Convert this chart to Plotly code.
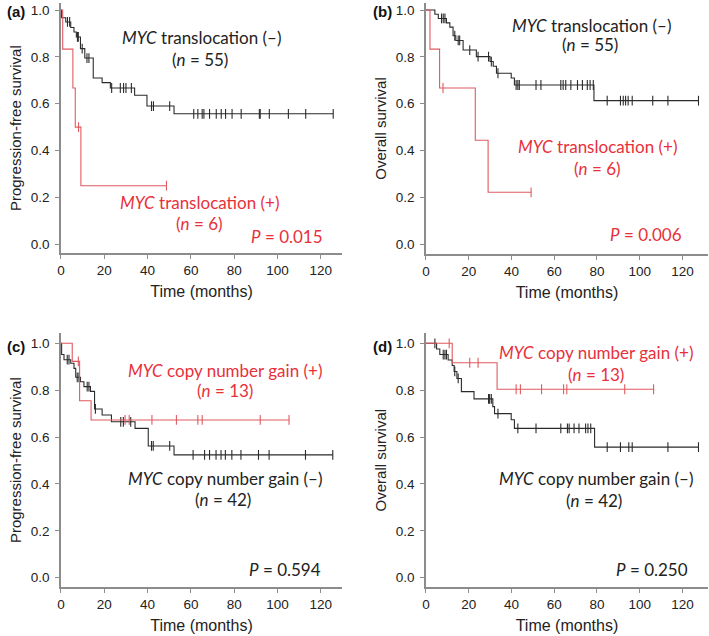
import plotly.graph_objects as go

# ---------------- data ----------------
# Panel (a): PFS by MYC translocation
a_neg_event_t = [0.3, 2.2, 4.5, 6.0, 7.1, 9.0, 11.0, 14.9, 19.0, 22.8, 34.0, 39.7, 52.2]
a_neg_surv = [0.967, 0.949, 0.925, 0.906, 0.885, 0.835, 0.795, 0.710, 0.690, 0.667, 0.636, 0.590, 0.557]
a_neg_censor = [3.0, 4.0, 7.6, 8.0, 9.8, 12.0, 12.9, 23.4, 27.4, 28.9, 30.0, 32.5, 41.8, 42.7, 50.2,
                61.3, 63.2, 65.2, 66.0, 68.6, 71.7, 74.0, 76.0, 79.0, 83.2, 91.6, 92.0, 96.2, 105.0, 113.0, 125.7]
a_pos_event_t = [0.8, 5.5, 6.6, 9.2]
a_pos_surv = [0.833, 0.667, 0.500, 0.250]
a_pos_censor = [8.1, 48.7]

# Panel (b): OS by MYC translocation
b_neg_event_t = [4.2, 5.8, 9.6, 11.2, 12.7, 14.0, 17.4, 23.6, 30.0, 31.5, 33.0, 39.9, 41.4, 78.6]
b_neg_surv = [0.982, 0.964, 0.945, 0.927, 0.890, 0.870, 0.829, 0.801, 0.780, 0.760, 0.730, 0.710, 0.680, 0.613]
b_neg_censor = [7.3, 8.1, 8.9, 13.5, 15.1, 15.8, 20.5, 24.4, 29.3, 30.6, 33.7, 42.2, 43.0, 43.7, 51.5, 53.8,
                63.1, 64.2, 65.4, 67.8, 70.9, 73.2, 75.5, 76.8, 78.3, 84.8, 91.0, 92.3, 93.4, 94.6, 96.5,
                106.1, 113.2, 127.5]
b_pos_event_t = [1.9, 6.4, 23.1, 29.1]
b_pos_surv = [0.833, 0.667, 0.444, 0.222]
b_pos_censor = [8.0, 49.2]

# Panel (c): PFS by MYC copy number gain
c_neg_event_t = [0.3, 1.4, 4.5, 6.0, 6.8, 9.0, 10.6, 13.6, 15.5, 19.0, 23.3, 34.2, 40.3, 52.2]
c_neg_surv = [0.952, 0.930, 0.915, 0.893, 0.855, 0.836, 0.815, 0.795, 0.720, 0.694, 0.665, 0.637, 0.562, 0.524]
c_neg_censor = [2.9, 3.7, 7.5, 8.3, 12.1, 12.9, 15.9, 27.6, 28.8, 32.2, 41.8, 42.6, 50.2, 61.0, 66.3, 68.6,
                71.6, 73.9, 75.9, 78.9, 83.1, 91.2, 96.1, 112.9, 125.5]
c_pos_event_t = [5.2, 8.6, 13.9]
c_pos_surv = [0.923, 0.755, 0.673]
c_pos_censor = [8.0, 29.6, 31.5, 42.0, 53.3, 63.2, 65.2, 92.0, 105.3]

# Panel (d): OS by MYC copy number gain
d_neg_event_t = [5.0, 6.5, 10.4, 12.3, 13.2, 14.5, 16.6, 22.5, 31.3, 32.1, 39.9, 41.4, 78.9]
d_neg_surv = [0.976, 0.952, 0.929, 0.905, 0.880, 0.850, 0.794, 0.763, 0.730, 0.700, 0.674, 0.637, 0.557]
d_neg_censor = [4.2, 8.1, 8.9, 9.6, 13.5, 15.1, 29.3, 29.8, 30.6, 33.7, 43.0, 51.5, 63.1, 66.2, 67.0, 69.3,
                71.6, 74.7, 75.8, 77.1, 84.8, 91.0, 94.9, 96.5, 113.2, 127.5]
d_pos_event_t = [12.3, 33.3]
d_pos_surv = [0.917, 0.804]
d_pos_censor = [10.9, 20.5, 24.4, 42.2, 44.2, 54.1, 64.4, 65.9, 93.0, 106.5]

x_ticks = [0, 20, 40, 60, 80, 100, 120]
y_ticks = [0.0, 0.2, 0.4, 0.6, 0.8, 1.0]
panel_labels = ["(a)", "(b)", "(c)", "(d)"]
y_titles = ["Progression-free survival", "Overall survival", "Progression-free survival", "Overall survival"]
x_title = "Time (months)"
p_values = ["0.015", "0.006", "0.594", "0.250"]

# ---------------- style ----------------
BLACK = "#2b2b2b"
RED_LINE = "#e05a60"
RED_TXT = "#e8303a"
AXIS_C = "#8c8c8c"
W, H = 709, 636
TICK_FONT = dict(family="Liberation Sans, Arial", size=13.5, color="#222")
ANN_FONT = "Lato, Carlito, Calibri, sans-serif"


def km_xy(event_t, surv, censor):
    last = max(event_t + censor)
    xs = [0] + list(event_t) + [last]
    ys = [1.0] + list(surv) + [surv[-1]]
    return xs, ys


def surv_at(t, event_t, surv):
    s = 1.0
    for et, sv in zip(event_t, surv):
        if et <= t:
            s = sv
    return s


fig = go.Figure()

# pixel geometry: (x px of t=0, px per month, right px, y px of 1.0, y px of 0.0, top px, bottom px)
geo = [
    (57.3, 2.178, 340.0, 10.0, 244.3, 3.0, 253.3),
    (424.3, 2.150, 708.0, 10.0, 244.3, 3.0, 254.0),
    (57.3, 2.178, 340.0, 343.3, 577.7, 333.0, 587.3),
    (424.3, 2.150, 708.0, 343.3, 577.7, 333.0, 587.3),
]

panels = [
    (a_neg_event_t, a_neg_surv, a_neg_censor, a_pos_event_t, a_pos_surv, a_pos_censor),
    (b_neg_event_t, b_neg_surv, b_neg_censor, b_pos_event_t, b_pos_surv, b_pos_censor),
    (c_neg_event_t, c_neg_surv, c_neg_censor, c_pos_event_t, c_pos_surv, c_pos_censor),
    (d_neg_event_t, d_neg_surv, d_neg_censor, d_pos_event_t, d_pos_surv, d_pos_censor),
]

for i, (g, p) in enumerate(zip(geo, panels)):
    k = "" if i == 0 else str(i + 1)
    xa, ya = "x" + k, "y" + k
    x0, ppm, xr, y1, y0, yt, yb = g
    ppu = y0 - y1
    xrange = [0, (xr - x0) / ppm]
    yrange = [-(yb - y0) / ppu, 1 + (y1 - yt) / ppu]
    for (et, sv, cen, lc) in [(p[0], p[1], p[2], BLACK), (p[3], p[4], p[5], RED_LINE)]:
        xs, ys = km_xy(et, sv, cen)
        fig.add_trace(go.Scatter(x=xs, y=ys, mode="lines", line=dict(color=lc, width=1.1, shape="hv"),
                                 xaxis=xa, yaxis=ya, showlegend=False, hoverinfo="skip"))
        fig.add_trace(go.Scatter(x=cen, y=[surv_at(t, et, sv) for t in cen], mode="markers",
                                 marker=dict(symbol="line-ns", size=7, line=dict(color=lc, width=1.1)),
                                 xaxis=xa, yaxis=ya, showlegend=False, hoverinfo="skip"))
    axis_common = dict(showline=True, linecolor=AXIS_C, linewidth=1.5, ticks="outside", ticklen=4,
                       tickcolor=AXIS_C, tickwidth=1.2, showgrid=False, zeroline=False, tickfont=TICK_FONT)
    fig.update_layout(**{
        ("xaxis" + k): dict(domain=[x0 / W, xr / W], range=xrange, tickvals=x_ticks, anchor=ya,
                            title=dict(text=x_title, font=dict(family="Liberation Sans, Arial", size=16, color="#222"),
                                       standoff=9),
                            **axis_common),
        ("yaxis" + k): dict(domain=[1 - yb / H, 1 - yt / H], range=yrange, tickvals=y_ticks, tickformat=".1f",
                            anchor=xa, ticklabelstandoff=3,
                            title=dict(text=y_titles[i], font=dict(family="Liberation Sans, Arial", size=15, color="#222"),
                                       standoff=5),
                            **axis_common),
    })

ann = []
def A(text, x, y, ref, color, xanchor="center"):
    ann.append(dict(text=text, x=x, y=y, xref="x" + ref, yref="y" + ref, showarrow=False,
                    font=dict(family=ANN_FONT, size=17, color=color), xanchor=xanchor, yanchor="middle"))

# (a)
A("<i>MYC</i> translocation (–)", 65, 0.882, "", "#222")
A("(<i>n</i> = 55)", 64, 0.787, "", "#222")
A("<i>MYC</i> translocation (+)", 64, 0.178, "", RED_TXT)
A("(<i>n</i> = 6)", 64, 0.09, "", RED_TXT)
A("<i>P</i> = " + p_values[0], 122, 0.035, "", RED_TXT, "right")
# (b)
A("<i>MYC</i> translocation (–)", 77.5, 0.933, "2", "#222")
A("(<i>n</i> = 55)", 76.6, 0.851, "2", "#222")
A("<i>MYC</i> translocation (+)", 80.2, 0.417, "2", RED_TXT)
A("(<i>n</i> = 6)", 80.2, 0.324, "2", RED_TXT)
A("<i>P</i> = " + p_values[1], 120.5, 0.04, "2", RED_TXT, "right")
# (c)
A("<i>MYC</i> copy number gain (+)", 75.9, 0.886, "3", RED_TXT)
A("(<i>n</i> = 13)", 75.9, 0.798, "3", RED_TXT)
A("<i>MYC</i> copy number gain (–)", 75.9, 0.424, "3", "#222")
A("(<i>n</i> = 42)", 74.7, 0.334, "3", "#222")
A("<i>P</i> = " + p_values[2], 121, 0.037, "3", "#222", "right")
# (d)
A("<i>MYC</i> copy number gain (+)", 79.7, 0.962, "4", RED_TXT)
A("(<i>n</i> = 13)", 79.7, 0.869, "4", RED_TXT)
A("<i>MYC</i> copy number gain (–)", 79.7, 0.424, "4", "#222")
A("(<i>n</i> = 42)", 78.6, 0.331, "4", "#222")
A("<i>P</i> = " + p_values[3], 123.3, 0.033, "4", "#222", "right")

for lab, (px, py) in zip(panel_labels, [(1, 12), (369, 12), (1, 346), (369, 346)]):
    ann.append(dict(text="<b>" + lab + "</b>", x=px / W, y=1 - py / H, xref="paper", yref="paper",
                    showarrow=False, xanchor="left", yanchor="middle",
                    font=dict(family="Liberation Sans, Arial", size=15, color="#111")))

fig.update_layout(width=W, height=H, margin=dict(l=0, r=0, t=0, b=0),
                  paper_bgcolor="white", plot_bgcolor="white", annotations=ann)

fig.write_html("out.html", config={"displayModeBar": False},
               post_script="document.body.style.margin='0';document.body.style.overflow='hidden';")
